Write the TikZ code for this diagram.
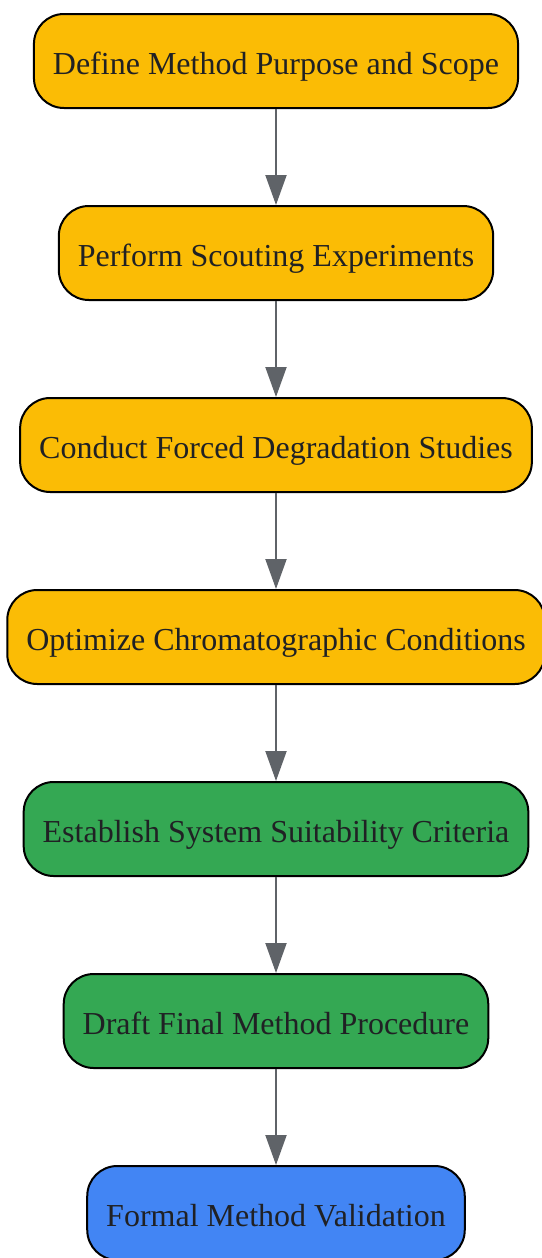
\documentclass[tikz,border=0pt]{standalone}
\usepackage{fontspec}
\setmainfont{Liberation Serif}
\usetikzlibrary{positioning,arrows.meta}

\definecolor{prep-yellow}{HTML}{FBBC05}
\definecolor{dev-green}{HTML}{34A853}
\definecolor{val-blue}{HTML}{4285F4}
\definecolor{ink-dark}{HTML}{202124}
\definecolor{flow-gray}{HTML}{5F6368}

\begin{document}
\begin{tikzpicture}[x=1pt,y=1pt,
  node distance=96pt,
  stage/.style={draw=black,line width=2pt,rounded corners=30pt,
    minimum height=94pt,inner xsep=19pt,text=ink-dark,
    text height=28pt,text depth=2pt,
    font=\fontsize{32}{38}\selectfont},
  prep-stage/.style={stage,fill=prep-yellow},
  dev-stage/.style={stage,fill=dev-green},
  val-stage/.style={stage,fill=val-blue},
  flow/.style={draw=flow-gray,line width=2pt,
    -{Triangle[length=30pt,width=21pt]}}]
\useasboundingbox (0,0) rectangle (541,-1258);
\node[prep-stage] (define-scope) at (276,-61) {Define Method Purpose and Scope};
\node[prep-stage,below=of define-scope] (scouting) {Perform Scouting Experiments};
\node[prep-stage,below=of scouting] (forced-deg) {Conduct Forced Degradation Studies};
\node[prep-stage,below=of forced-deg] (optimize) {Optimize Chromatographic Conditions};
\node[dev-stage,below=of optimize] (suitability) {Establish System Suitability Criteria};
\node[dev-stage,below=of suitability] (draft) {Draft Final Method Procedure};
\node[val-stage,below=of draft] (validation) {Formal Method Validation};
\foreach \from/\to in {define-scope/scouting,scouting/forced-deg,
    forced-deg/optimize,optimize/suitability,suitability/draft,draft/validation}
  \draw[flow] (\from) -- (\to);
\end{tikzpicture}
\end{document}
